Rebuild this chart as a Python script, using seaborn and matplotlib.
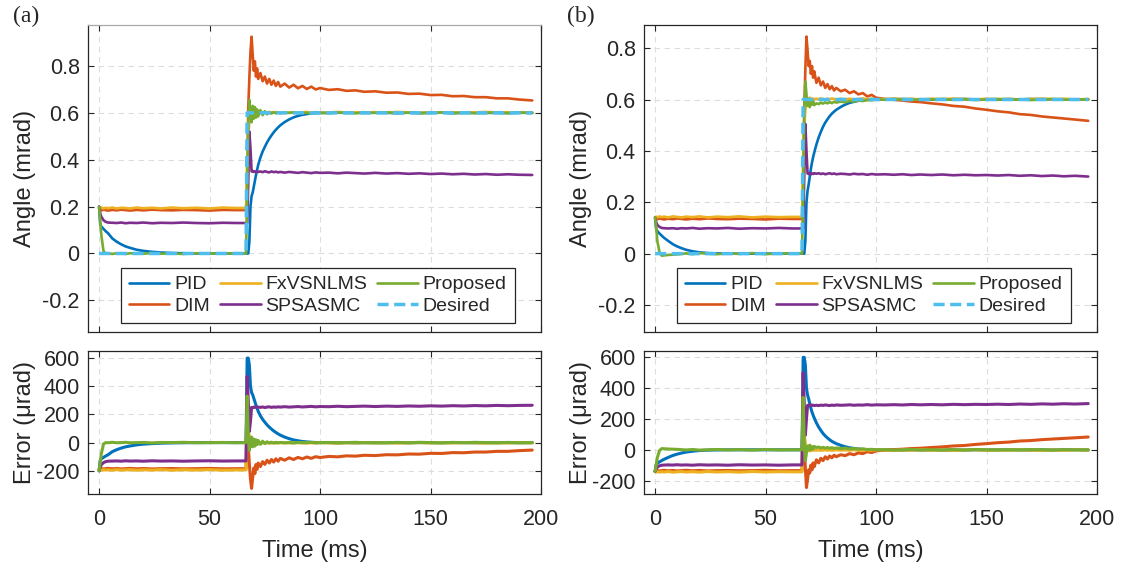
import matplotlib
matplotlib.use("Agg")
import matplotlib.pyplot as plt
from matplotlib.ticker import FuncFormatter
import pandas as pd
import seaborn as sns

# ---------------------------------------------------------------- data
# time grid (ms), dense around the step at 67 ms
T_MS = [0, 0.5, 1, 2, 3, 4, 6, 8, 10, 12, 14, 17, 20, 24, 28, 33, 38, 44, 50, 56, 62,
        66.5, 67, 67.5, 68, 68.5, 69, 69.5, 70, 70.5, 71, 71.5, 72,
        73, 74, 75, 76, 77, 78, 79, 80, 81, 82, 84, 86, 88, 90, 92, 94, 96, 98, 100,
        104, 108, 112, 116, 120, 125, 130, 135, 140, 145, 150, 155, 160, 165, 170, 175, 180, 185, 190, 196]

# reference angle (mrad)
DESIRED = [0] * 21 + [0] + [0.6] * 11 + [0.6] * 19 + [0.6] * 20

# ---- case (a): angle responses (mrad)
PID_A = [0.2, 0.125, 0.115, 0.105, 0.095, 0.087, 0.064, 0.05, 0.039, 0.03, 0.024, 0.016, 0.011, 0.007, 0.004, 0.002, 0.001, 0.0, 0.0, 0.0, 0.0,
         0.0, 0.0, 0.0, 0.05, 0.2, 0.245, 0.26, 0.285, 0.31, 0.335, 0.357, 0.378,
         0.41, 0.435, 0.455, 0.474, 0.49, 0.504, 0.517, 0.528, 0.538, 0.547, 0.561, 0.572, 0.581, 0.587, 0.592, 0.595, 0.598, 0.599, 0.6,
         0.6, 0.601, 0.6, 0.602, 0.6, 0.601, 0.6, 0.599, 0.601, 0.6, 0.6, 0.601, 0.599, 0.6, 0.601, 0.6, 0.6, 0.599, 0.601, 0.6]
DIM_A = [0.19, 0.186, 0.184, 0.187, 0.185, 0.183, 0.186, 0.184, 0.187, 0.185, 0.183, 0.186, 0.184, 0.187, 0.185, 0.184, 0.186, 0.185, 0.183, 0.186, 0.185,
         0.185, 0.3, 0.62, 0.75, 0.86, 0.925, 0.85, 0.78, 0.82, 0.755, 0.79, 0.745,
         0.77, 0.735, 0.755, 0.725, 0.745, 0.72, 0.738, 0.715, 0.732, 0.712, 0.725, 0.708, 0.72, 0.705, 0.715, 0.702, 0.712, 0.7, 0.706,
         0.698, 0.701, 0.694, 0.696, 0.69, 0.692, 0.686, 0.687, 0.681, 0.682, 0.676, 0.677, 0.671, 0.672, 0.667, 0.667, 0.662, 0.662, 0.657, 0.653]
FXV_A = [0.195, 0.193, 0.196, 0.192, 0.195, 0.193, 0.196, 0.192, 0.195, 0.194, 0.192, 0.196, 0.193, 0.195, 0.192, 0.196, 0.193, 0.195, 0.192, 0.196, 0.194,
         0.194, 0.4, 0.5, 0.56, 0.59, 0.6, 0.607, 0.61, 0.606, 0.604, 0.602, 0.601,
         0.603, 0.601, 0.604, 0.602, 0.6, 0.603, 0.601, 0.604, 0.602, 0.6, 0.603, 0.601, 0.603, 0.6, 0.602, 0.604, 0.601, 0.603, 0.6,
         0.602, 0.604, 0.601, 0.603, 0.6, 0.603, 0.601, 0.604, 0.602, 0.6, 0.603, 0.601, 0.603, 0.6, 0.602, 0.604, 0.601, 0.603, 0.6, 0.602]
SPS_A = [0.2, 0.172, 0.157, 0.142, 0.135, 0.132, 0.131, 0.13, 0.132, 0.129, 0.131, 0.13, 0.132, 0.129, 0.131, 0.13, 0.132, 0.13, 0.129, 0.131, 0.13,
         0.13, 0.13, 0.3, 0.52, 0.45, 0.35, 0.352, 0.348, 0.35, 0.347, 0.35, 0.348,
         0.35, 0.347, 0.351, 0.348, 0.346, 0.35, 0.347, 0.349, 0.346, 0.348, 0.345, 0.348, 0.346, 0.344, 0.347, 0.345, 0.343, 0.346, 0.344,
         0.345, 0.342, 0.345, 0.343, 0.341, 0.344, 0.341, 0.343, 0.34, 0.342, 0.339, 0.341, 0.338, 0.34, 0.337, 0.339, 0.336, 0.338, 0.336, 0.335]
PRO_A = [0.2, 0.14, 0.08, 0.01, 0.0, 0.001, -0.002, 0.001, 0.0, -0.002, 0.001, 0.0, -0.001, 0.002, -0.001, 0.0, -0.002, 0.001, 0.0, -0.001, 0.001,
         0.0, 0.27, 0.55, 0.655, 0.6, 0.56, 0.63, 0.575, 0.625, 0.58, 0.615, 0.585,
         0.612, 0.59, 0.607, 0.594, 0.604, 0.597, 0.603, 0.598, 0.602, 0.599, 0.601, 0.6, 0.602, 0.599, 0.601, 0.6, 0.598, 0.602, 0.6,
         0.599, 0.602, 0.6, 0.598, 0.601, 0.6, 0.602, 0.599, 0.601, 0.598, 0.6, 0.602, 0.599, 0.601, 0.598, 0.6, 0.602, 0.599, 0.601, 0.6]

# ---- case (b): angle responses (mrad)
PID_B = [0.14, 0.095, 0.088, 0.078, 0.07, 0.062, 0.049, 0.037, 0.028, 0.021, 0.015, 0.009, 0.005, 0.002, 0.001, 0.0, 0.0, 0.0, 0.0, 0.0, 0.0,
         0.0, 0.0, 0.0, 0.05, 0.2, 0.245, 0.27, 0.3, 0.33, 0.355, 0.375, 0.393,
         0.425, 0.452, 0.474, 0.494, 0.51, 0.523, 0.535, 0.545, 0.553, 0.56, 0.571, 0.58, 0.587, 0.591, 0.595, 0.597, 0.599, 0.6, 0.6,
         0.601, 0.6, 0.602, 0.6, 0.601, 0.599, 0.601, 0.6, 0.602, 0.6, 0.601, 0.599, 0.601, 0.6, 0.602, 0.6, 0.601, 0.6, 0.599, 0.601]
DIM_B = [0.14, 0.136, 0.134, 0.137, 0.135, 0.133, 0.136, 0.134, 0.137, 0.135, 0.133, 0.136, 0.134, 0.137, 0.135, 0.134, 0.136, 0.135, 0.133, 0.136, 0.135,
         0.135, 0.25, 0.55, 0.72, 0.845, 0.79, 0.73, 0.75, 0.7, 0.73, 0.685, 0.71,
         0.665, 0.685, 0.655, 0.67, 0.645, 0.66, 0.64, 0.652, 0.635, 0.645, 0.632, 0.638, 0.625, 0.632, 0.62, 0.625, 0.612, 0.618, 0.607,
         0.602, 0.599, 0.596, 0.592, 0.59, 0.585, 0.581, 0.575, 0.572, 0.565, 0.56, 0.554, 0.55, 0.543, 0.54, 0.534, 0.53, 0.526, 0.522, 0.517]
FXV_B = [0.142, 0.144, 0.141, 0.145, 0.142, 0.144, 0.141, 0.145, 0.143, 0.141, 0.144, 0.142, 0.145, 0.141, 0.144, 0.142, 0.145, 0.141, 0.144, 0.142, 0.143,
         0.143, 0.38, 0.5, 0.56, 0.59, 0.6, 0.605, 0.607, 0.604, 0.602, 0.603, 0.601,
         0.603, 0.601, 0.604, 0.602, 0.6, 0.603, 0.601, 0.604, 0.602, 0.6, 0.603, 0.601, 0.603, 0.6, 0.602, 0.604, 0.601, 0.603, 0.6,
         0.602, 0.604, 0.601, 0.603, 0.6, 0.603, 0.601, 0.604, 0.602, 0.6, 0.603, 0.601, 0.603, 0.6, 0.602, 0.604, 0.601, 0.603, 0.6, 0.602]
SPS_B = [0.14, 0.122, 0.112, 0.104, 0.1, 0.099, 0.098, 0.099, 0.097, 0.099, 0.098, 0.1, 0.097, 0.099, 0.098, 0.1, 0.097, 0.099, 0.098, 0.1, 0.098,
         0.098, 0.098, 0.3, 0.505, 0.4, 0.312, 0.31, 0.313, 0.309, 0.312, 0.31, 0.313,
         0.311, 0.313, 0.31, 0.312, 0.309, 0.311, 0.313, 0.31, 0.312, 0.309, 0.311, 0.31, 0.308, 0.311, 0.309, 0.31, 0.307, 0.31, 0.308,
         0.309, 0.307, 0.309, 0.306, 0.308, 0.306, 0.308, 0.305, 0.307, 0.305, 0.306, 0.304, 0.306, 0.303, 0.305, 0.302, 0.304, 0.301, 0.303, 0.3]
PRO_B = [0.14, 0.1, 0.05, 0.005, -0.008, -0.007, -0.005, -0.004, -0.003, -0.001, 0.001, -0.002, 0.002, 0.0, -0.002, 0.001, -0.001, 0.002, -0.002, 0.001, 0.0,
         0.0, 0.26, 0.55, 0.67, 0.62, 0.575, 0.6, 0.57, 0.6, 0.58, 0.595, 0.578,
         0.585, 0.582, 0.588, 0.584, 0.589, 0.585, 0.59, 0.586, 0.591, 0.588, 0.592, 0.589, 0.594, 0.592, 0.596, 0.594, 0.598, 0.597, 0.6,
         0.599, 0.602, 0.6, 0.598, 0.601, 0.6, 0.602, 0.599, 0.601, 0.598, 0.6, 0.602, 0.599, 0.601, 0.598, 0.6, 0.602, 0.599, 0.601, 0.6]

METHODS = ["PID", "DIM", "FxVSNLMS", "SPSASMC", "Proposed"]
X_TICKS = [0, 50, 100, 150, 200]
ANGLE_TICKS = [-0.2, 0, 0.2, 0.4, 0.6, 0.8]
ERROR_TICKS = [-200, 0, 200, 400, 600]

# ---------------------------------------------------------------- style
sns.set_theme(style="ticks")
plt.rcParams["font.family"] = ["Liberation Sans", "DejaVu Sans"]
plt.rcParams["axes.unicode_minus"] = False
INK = "#262626"
plt.rcParams.update({
    "text.color": INK, "axes.labelcolor": INK, "axes.edgecolor": INK,
    "xtick.color": INK, "ytick.color": INK, "axes.linewidth": 0.9,
})

COLORS = {
    "PID": "#0072BD", "DIM": "#D95319", "FxVSNLMS": "#EDB120",
    "SPSASMC": "#7E2F8E", "Proposed": "#77AC30", "Desired": "#4DBEEE",
}


def build_frame(series):
    df = pd.DataFrame({"t": T_MS, "Desired": DESIRED})
    for name, vals in zip(METHODS, series):
        df[name] = vals
    for name in METHODS:
        df["err_" + name] = (df["Desired"] - df[name]) * 1000.0
    return df


def style_axes(ax, ylim, yticks, show_xlabels):
    ax.set_xlim(-5, 200)
    ax.set_ylim(*ylim)
    ax.set_xticks(X_TICKS)
    ax.set_yticks(yticks)
    ax.yaxis.set_major_formatter(FuncFormatter(lambda v, _: f"{v:g}"))
    ax.grid(True, linestyle=(0, (5, 4)), color="#dddddd", linewidth=0.8)
    ax.set_axisbelow(True)
    ax.tick_params(direction="in", length=4.5, width=0.8, top=True, right=True,
                   labelsize=15.5, pad=6)
    ax.tick_params(axis="x", pad=11)
    if not show_xlabels:
        ax.tick_params(axis="x", labelbottom=False)
    for sp in ax.spines.values():
        sp.set_visible(True)
        sp.set_color(INK)
        sp.set_linewidth(0.9)


def draw_column(fig, left, df, panel):
    ax_t = fig.add_axes([left, 0.4145, 0.4034, 0.5414])
    ax_b = fig.add_axes([left, 0.1287, 0.4034, 0.2522])

    handles = []
    for name in METHODS:
        sns.lineplot(data=df, x="t", y=name, ax=ax_t, color=COLORS[name],
                     linewidth=1.9, estimator=None, sort=False, legend=False)
        handles.append(ax_t.lines[-1])
    sns.lineplot(data=df, x="t", y="Desired", ax=ax_t, color=COLORS["Desired"],
                 linewidth=2.5, linestyle=(0, (3.2, 1.6)), estimator=None,
                 sort=False, legend=False)
    handles.append(ax_t.lines[-1])

    for name in METHODS:
        sns.lineplot(data=df, x="t", y="err_" + name, ax=ax_b, color=COLORS[name],
                     linewidth=2.2, estimator=None, sort=False, legend=False)

    if panel == "a":
        style_axes(ax_t, (-0.335, 0.975), ANGLE_TICKS, False)
        style_axes(ax_b, (-365, 650), ERROR_TICKS, True)
        ax_t.spines["top"].set_color("#a8a8a8")
    else:
        style_axes(ax_t, (-0.305, 0.89), ANGLE_TICKS, False)
        style_axes(ax_b, (-287, 641), ERROR_TICKS, True)

    ax_t.set_xlabel("")
    ax_t.set_ylabel("Angle (mrad)", fontsize=17, va="center")
    ax_t.yaxis.set_label_coords(-0.14, 0.5)
    ax_b.set_ylabel("Error (\u03bcrad)", fontsize=17, va="center")
    ax_b.yaxis.set_label_coords(-0.14, 0.5)
    ax_b.set_xlabel("Time (ms)", fontsize=17, labelpad=7)

    labels = ["PID", "DIM", "FxVSNLMS", "SPSASMC", "Proposed", "Desired"]
    leg = ax_t.legend(handles, labels, ncol=3,
                      loc="lower center", bbox_to_anchor=(0.507, 0.03),
                      borderaxespad=0, fontsize=14, frameon=True, fancybox=False,
                      framealpha=1, edgecolor=INK, handlelength=2.1,
                      handletextpad=0.25, columnspacing=0.5, labelspacing=0.2,
                      borderpad=0.4)
    leg.get_frame().set_linewidth(0.9)
    return ax_t, ax_b


fig = plt.figure(figsize=(11.23, 5.67), dpi=100)

df_a = build_frame([PID_A, DIM_A, FXV_A, SPS_A, PRO_A])
df_b = build_frame([PID_B, DIM_B, FXV_B, SPS_B, PRO_B])

draw_column(fig, 0.0784, df_a, "a")
draw_column(fig, 0.5735, df_b, "b")

fig.text(0.012, 0.99, "(a)", family=["Liberation Serif"], fontsize=17, va="top")
fig.text(0.505, 0.99, "(b)", family=["Liberation Serif"], fontsize=17, va="top")

fig.savefig("out.png", dpi=100)
